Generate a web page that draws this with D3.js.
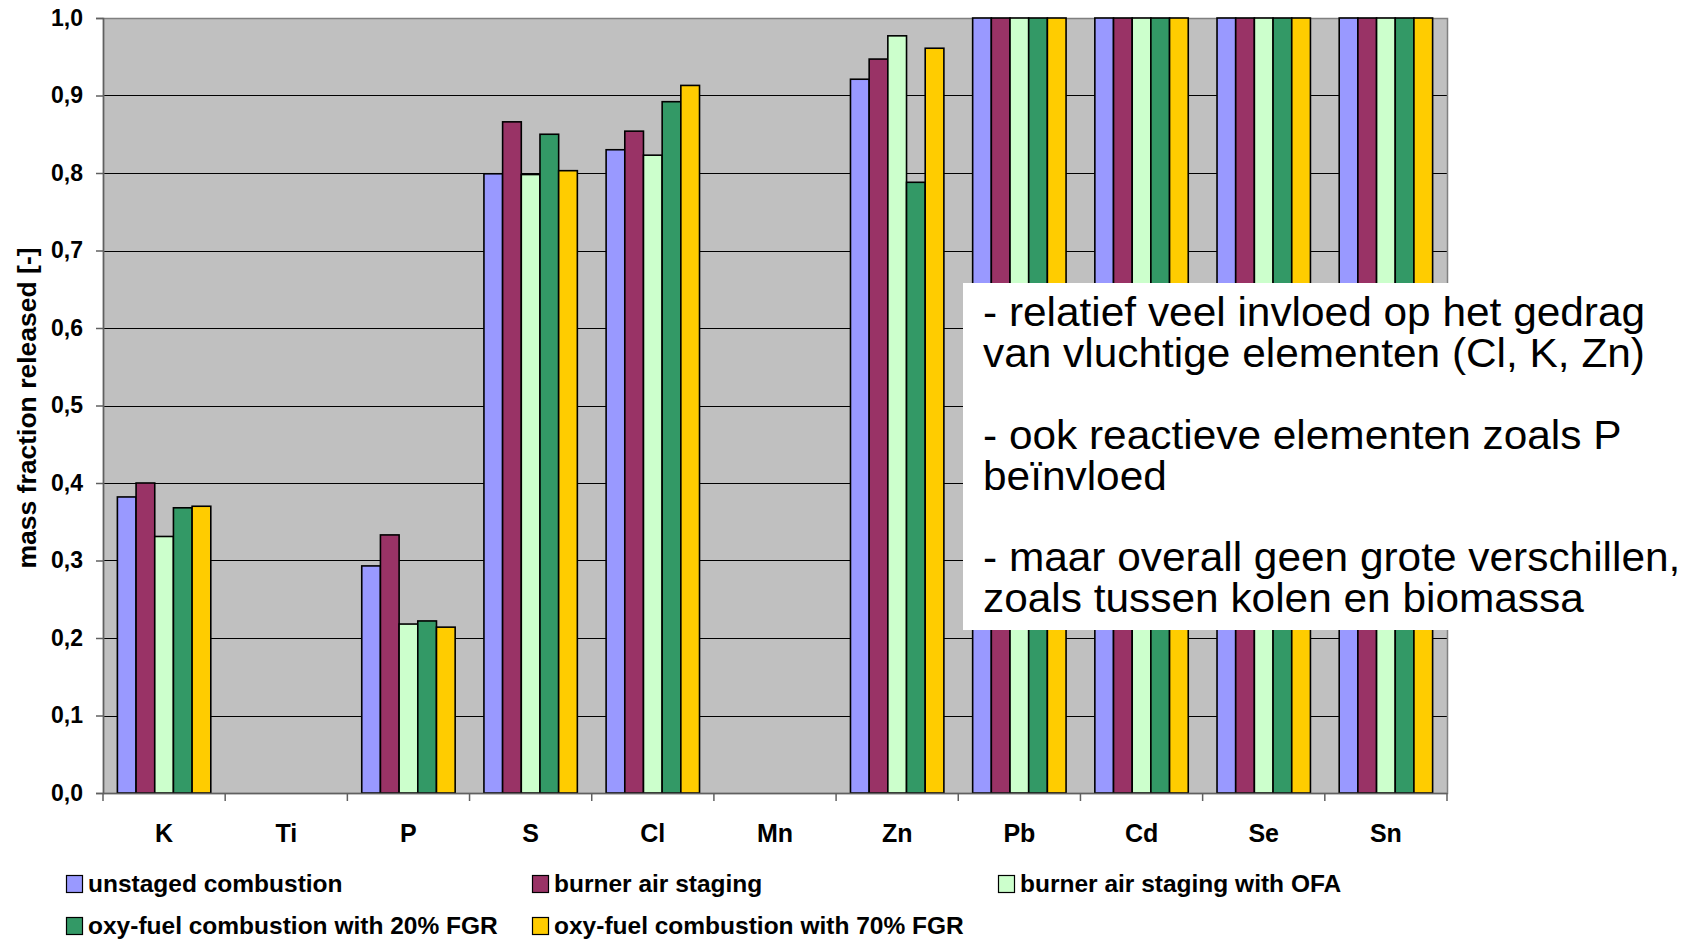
<!DOCTYPE html>
<html>
<head>
<meta charset="utf-8">
<script src="https://cdn.jsdelivr.net/npm/d3@7"></script>
<style>
  html, body { margin: 0; padding: 0; background: #ffffff; }
  svg { display: block; }
  text { font-family: "Liberation Sans", Arial, sans-serif; }
</style>
</head>
<body>
<svg id="chart" width="1690" height="940"></svg>
<script>
// ---- data ----
const categories = ["K", "Ti", "P", "S", "Cl", "Mn", "Zn", "Pb", "Cd", "Se", "Sn"];
const seriesNames = [
  "unstaged combustion",
  "burner air staging",
  "burner air staging with OFA",
  "oxy-fuel combustion with 20% FGR",
  "oxy-fuel combustion with 70% FGR"
];
const unstaged = [0.382, null, 0.293, 0.799, 0.830, null, 0.921, 1.0, 1.0, 1.0, 1.0];
const burnerStaging = [0.400, null, 0.333, 0.866, 0.854, null, 0.947, 1.0, 1.0, 1.0, 1.0];
const burnerOFA = [0.331, null, 0.218, 0.798, 0.823, null, 0.977, 1.0, 1.0, 1.0, 1.0];
const oxyFGR20 = [0.368, null, 0.222, 0.850, 0.892, null, 0.788, 1.0, 1.0, 1.0, 1.0];
const oxyFGR70 = [0.370, null, 0.214, 0.803, 0.913, null, 0.961, 1.0, 1.0, 1.0, 1.0];
const seriesColors = ["#9999FF", "#993366", "#CCFFCC", "#339966", "#FFCC00"];
const yTickValues = [0, 0.1, 0.2, 0.3, 0.4, 0.5, 0.6, 0.7, 0.8, 0.9, 1.0];
const yTickLabels = ["0,0", "0,1", "0,2", "0,3", "0,4", "0,5", "0,6", "0,7", "0,8", "0,9", "1,0"];
const yTitle = "mass fraction released [-]";
const noteLines = [
  "- relatief veel invloed op het gedrag",
  "van vluchtige elementen (Cl, K, Zn)",
  "",
  "- ook reactieve elementen zoals P",
  "beïnvloed",
  "",
  "- maar overall geen grote verschillen,",
  "zoals tussen kolen en biomassa"
];

const seriesValues = [unstaged, burnerStaging, burnerOFA, oxyFGR20, oxyFGR70];

// ---- layout ----
const svg = d3.select("#chart");
const plot = { left: 103, top: 18, right: 1447, bottom: 793 };

const x0 = d3.scaleBand().domain(categories).range([plot.left, plot.right]).paddingInner(0).paddingOuter(0);
const x1 = d3.scaleBand().domain(seriesNames).range([0, x0.bandwidth()]).paddingInner(0).paddingOuter(0.77);
const y = d3.scaleLinear().domain([0, 1]).range([plot.bottom, plot.top]);

// plot background
svg.append("rect")
  .attr("x", plot.left).attr("y", plot.top)
  .attr("width", plot.right - plot.left).attr("height", plot.bottom - plot.top)
  .attr("fill", "#C0C0C0");

// gridlines
svg.append("g").selectAll("line")
  .data(yTickValues.filter(v => v > 0 && v < 1))
  .join("line")
  .attr("x1", plot.left).attr("x2", plot.right)
  .attr("y1", d => Math.round(y(d)) + 0.5).attr("y2", d => Math.round(y(d)) + 0.5)
  .attr("stroke", "#000").attr("stroke-width", 1.2);

// plot border
svg.append("rect")
  .attr("x", plot.left + 0.5).attr("y", plot.top + 0.5)
  .attr("width", plot.right - plot.left).attr("height", plot.bottom - plot.top)
  .attr("fill", "none").attr("stroke", "#808080").attr("stroke-width", 1.5);

// bars
const barRows = [];
categories.forEach((c, i) => {
  seriesNames.forEach((s, j) => {
    const v = seriesValues[j][i];
    if (v !== null && v !== undefined) barRows.push({ cat: c, series: s, value: v, color: seriesColors[j] });
  });
});
svg.append("g").selectAll("rect")
  .data(barRows)
  .join("rect")
  .attr("x", d => x0(d.cat) + x1(d.series))
  .attr("y", d => y(d.value))
  .attr("width", x1.bandwidth())
  .attr("height", d => y(0) - y(d.value))
  .attr("fill", d => d.color)
  .attr("stroke", "#000")
  .attr("stroke-width", 1.6);

// y axis
const yAxis = d3.axisLeft(y)
  .tickValues(yTickValues)
  .tickFormat((d, i) => yTickLabels[i])
  .tickSize(7)
  .tickPadding(13);
const gy = svg.append("g").attr("transform", `translate(${plot.left},0)`).call(yAxis);
gy.select(".domain").attr("stroke", "#606060").attr("stroke-width", 1.5);
gy.selectAll(".tick line").attr("stroke", "#606060").attr("stroke-width", 1.5);
gy.selectAll(".tick text")
  .attr("font-family", "Liberation Sans, Arial, sans-serif")
  .attr("font-size", 23).attr("font-weight", "bold").attr("fill", "#000");

// x axis (ticks at category boundaries)
const boundaries = categories.map(c => x0(c)).concat([plot.right]);
const gx = svg.append("g");
gx.append("line")
  .attr("x1", plot.left).attr("x2", plot.right)
  .attr("y1", plot.bottom + 0.5).attr("y2", plot.bottom + 0.5)
  .attr("stroke", "#606060").attr("stroke-width", 1.5);
gx.selectAll("line.tk")
  .data(boundaries)
  .join("line").attr("class", "tk")
  .attr("x1", d => d).attr("x2", d => d)
  .attr("y1", plot.bottom).attr("y2", plot.bottom + 8)
  .attr("stroke", "#606060").attr("stroke-width", 1.5);
gx.selectAll("text")
  .data(categories)
  .join("text")
  .attr("x", d => x0(d) + x0.bandwidth() / 2)
  .attr("y", 842)
  .attr("text-anchor", "middle")
  .attr("font-size", 25).attr("font-weight", "bold").attr("fill", "#000")
  .text(d => d);

// y title
svg.append("text")
  .attr("transform", "translate(36,408) rotate(-90)")
  .attr("text-anchor", "middle")
  .attr("font-size", 26.5).attr("font-weight", "bold").attr("fill", "#000")
  .text(yTitle);

// legend
const legendPos = [
  { x: 66, y: 875 }, { x: 532, y: 875 }, { x: 998, y: 875 },
  { x: 66, y: 917 }, { x: 532, y: 917 }
];
const lg = svg.append("g").selectAll("g")
  .data(seriesNames)
  .join("g")
  .attr("transform", (d, i) => `translate(${legendPos[i].x},${legendPos[i].y})`);
lg.append("rect")
  .attr("x", 0.5).attr("y", 0.5).attr("width", 16).attr("height", 17)
  .attr("fill", (d, i) => seriesColors[i])
  .attr("stroke", "#000").attr("stroke-width", 1.2);
lg.append("text")
  .attr("x", 22).attr("y", 17)
  .attr("font-size", 24.5).attr("font-weight", "bold").attr("fill", "#000")
  .text(d => d);

// annotation box
svg.append("rect")
  .attr("x", 963).attr("y", 283).attr("width", 1690 - 963).attr("height", 630 - 283)
  .attr("fill", "#ffffff");
svg.append("g")
  .attr("transform", "translate(983,0) scale(1.06,1)")
  .selectAll("text")
  .data(noteLines)
  .join("text")
  .attr("x", 0)
  .attr("y", (d, i) => 326.5 + i * 40.8)
  .attr("font-size", 40).attr("fill", "#000")
  .text(d => d);
</script>
</body>
</html>
